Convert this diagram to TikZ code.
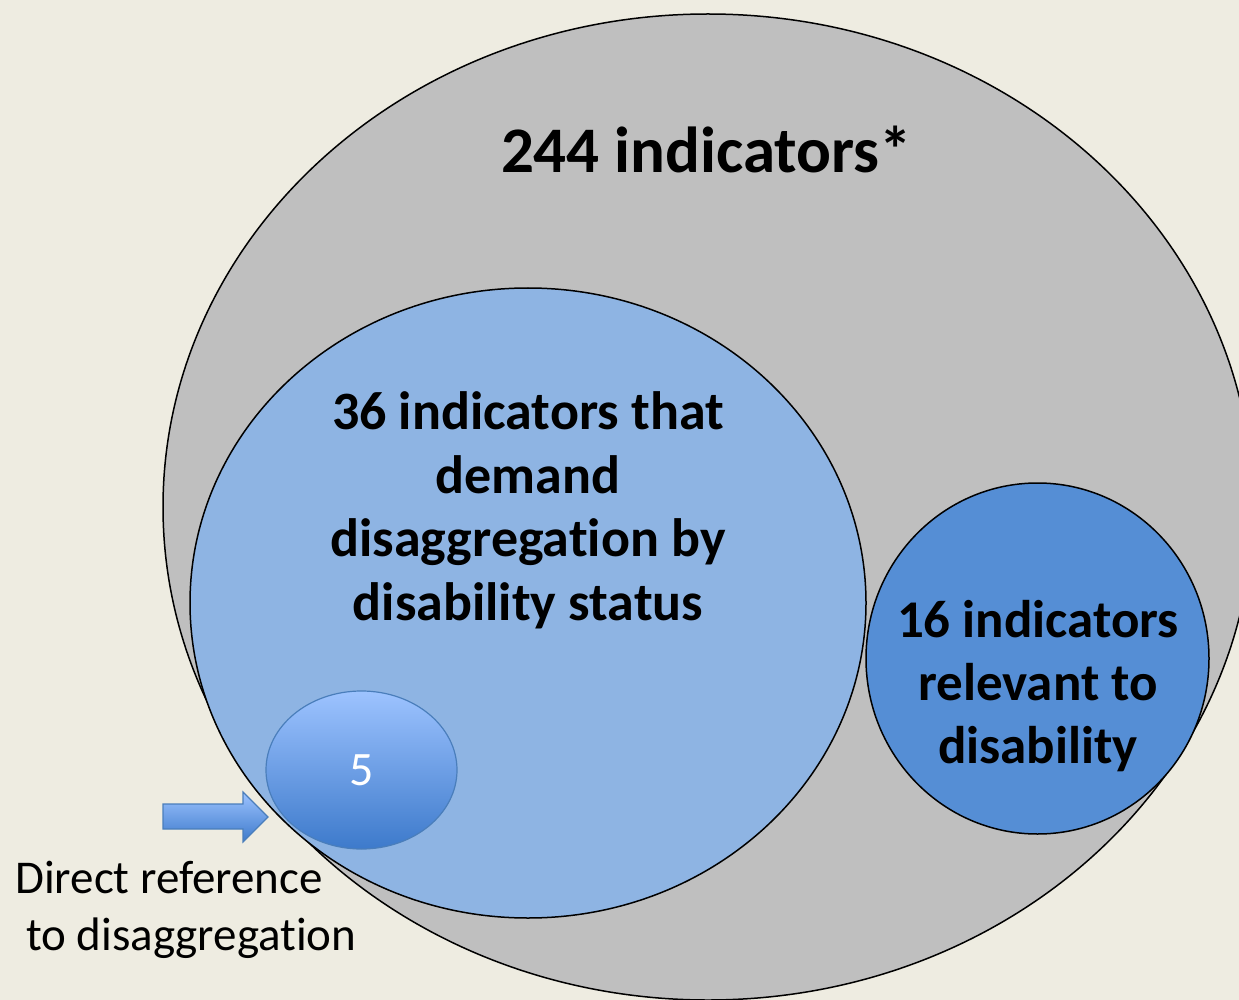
\documentclass[tikz,border=0pt]{standalone}
\usepackage{fontspec}
\setmainfont{Carlito}[Ligatures=NoCommon]
\usetikzlibrary{shapes.geometric}
\definecolor{bgtan}{HTML}{EEECE1}
\definecolor{allgrey}{HTML}{BFBFBF}
\definecolor{lightblue}{HTML}{8EB4E3}
\definecolor{midblue}{HTML}{558ED5}
\definecolor{gradtop}{HTML}{9DC3FF}
\definecolor{gradbot}{HTML}{3D7ACB}
\definecolor{gradline}{HTML}{4A7EBB}
\tikzset{
  setshape/.style={ellipse, draw=black, line width=1.5pt, inner sep=0pt},
  boldlabel/.style={font=\bfseries\fontsize{54}{63.5}\selectfont, align=center, inner sep=0pt, text=black},
  gradfill/.style={top color=gradtop, bottom color=gradbot, draw=gradline, line width=1.2pt}
}
\begin{document}
\begin{tikzpicture}[x=1pt,y=-1pt]
\fill[bgtan] (0,0) rectangle (1239,1000);
\useasboundingbox (0,0) rectangle (1239,1000);
\begin{scope}
\clip (0,0) rectangle (1239,1000);
\node[setshape, fill=allgrey, minimum width=1090pt, minimum height=986pt] (all) at (708,507) {};
\node[setshape, fill=lightblue, minimum width=676pt, minimum height=630pt] (demand) at (528,603) {};
\node[setshape, fill=midblue, minimum width=343pt, minimum height=351pt] (relevant) at (1037.5,658.5) {};
\node[ellipse, gradfill, inner sep=0pt, minimum width=191pt, minimum height=158pt] (direct) at (361.5,770) {};
\end{scope}
\node[anchor=base, inner sep=0pt, font=\bfseries\fontsize{65}{78}\selectfont] (t244) at (706.5,173) {244 indicators*};
\node[boldlabel, anchor=base] (t36) at (528,620) {36 indicators that\\demand\\disaggregation by\\disability status};
\node[boldlabel, font=\bfseries\fontsize{53}{63}\selectfont, anchor=base] (t16) at (1038,763) {16 indicators\\relevant to\\disability};
\node[inner sep=0pt, text=white, font=\fontsize{48}{52}\selectfont] (t5) at (direct) {5};
\shade[gradfill] (163,804) coordinate (arrowtail) -- (243,804) -- (243,792) -- (268,817) coordinate (arrowtip) -- (243,842) -- (243,829) -- (163,829) -- cycle;
\node[anchor=base west, inner sep=0pt, font=\fontsize{47}{57}\selectfont] (lab1) at (15,893) {Direct reference};
\node[anchor=base west, inner sep=0pt, font=\fontsize{47}{57}\selectfont] (lab2) at (26,950) {to disaggregation};
\end{tikzpicture}
\end{document}
